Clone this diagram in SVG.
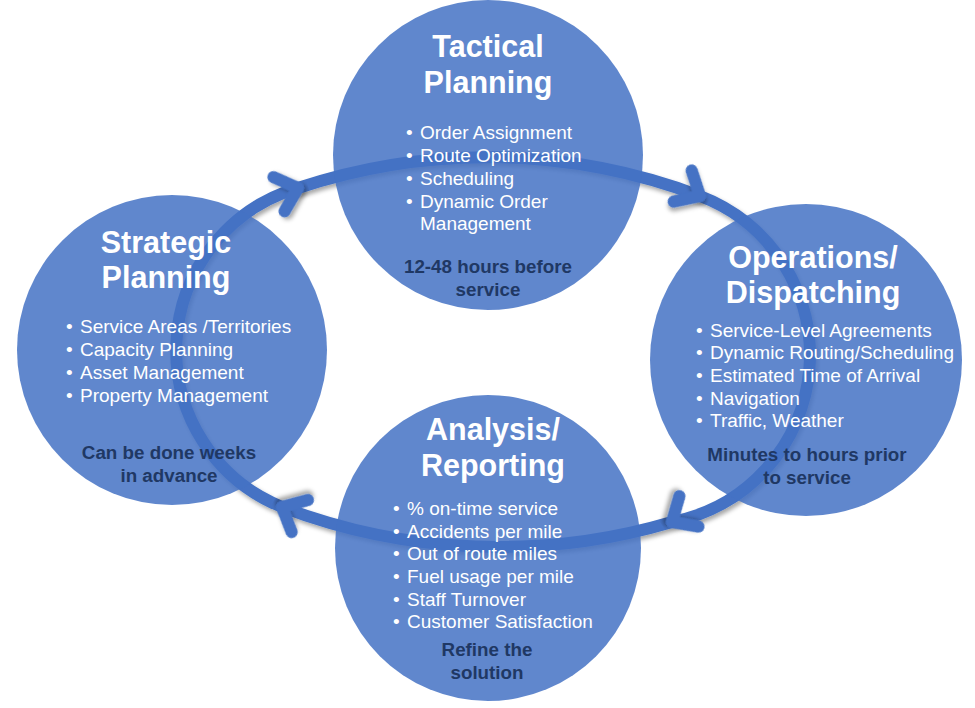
<svg xmlns="http://www.w3.org/2000/svg" xmlns:xlink="http://www.w3.org/1999/xlink" width="975" height="708" viewBox="0 0 975 708">
<style>
.node{fill:#4472c4;fill-opacity:0.85}
.title{font-family:"Liberation Sans",Arial,sans-serif;font-weight:bold;font-size:30.5px;fill:#ffffff;text-anchor:middle}
.item{font-family:"Liberation Sans",Arial,sans-serif;font-size:19px;fill:#ffffff}
.note{font-family:"Liberation Sans",Arial,sans-serif;font-weight:bold;font-size:18.8px;fill:#1f3864;text-anchor:middle}
.ring{fill:none;stroke:#4472c4;stroke-width:12}
.chev{fill:none;stroke:#4472c4;stroke-width:12;stroke-linecap:round;stroke-linejoin:round}
</style>
<defs>
<filter id="sh" x="-50%" y="-50%" width="200%" height="200%">
<feDropShadow dx="2" dy="3" stdDeviation="2" flood-color="#000" flood-opacity="0.35"/>
</filter>
<path id="arrowhead" class="chev" d="M-20,-18 L0,0 L-20,18"/>
</defs>
<rect width="975" height="708" fill="#ffffff"/>
<g id="connectors">
<path class="ring" filter="url(#sh)" d="M298,188 A600,600 0 0 1 700,196 A170,170 0 0 1 672,522 A610,610 0 0 1 282,507 A169,169 0 0 1 298,188 Z"/>
<use xlink:href="#arrowhead" href="#arrowhead" filter="url(#sh)" transform="translate(298,188) rotate(-18)"/>
<use xlink:href="#arrowhead" href="#arrowhead" filter="url(#sh)" transform="translate(700,196) rotate(30)"/>
<use xlink:href="#arrowhead" href="#arrowhead" filter="url(#sh)" transform="translate(672,522) rotate(148)"/>
<use xlink:href="#arrowhead" href="#arrowhead" filter="url(#sh)" transform="translate(282,507) rotate(207)"/>
</g>
<g id="tactical">
<circle class="node" cx="488" cy="155" r="155"/>
<text class="title" x="488" y="57">Tactical</text>
<text class="title" x="488" y="93">Planning</text>
<text class="item" y="139"><tspan x="406">•</tspan><tspan x="420">Order Assignment</tspan></text>
<text class="item" y="162"><tspan x="406">•</tspan><tspan x="420">Route Optimization</tspan></text>
<text class="item" y="185"><tspan x="406">•</tspan><tspan x="420">Scheduling</tspan></text>
<text class="item" y="208"><tspan x="406">•</tspan><tspan x="420">Dynamic Order</tspan></text>
<text class="item" x="420" y="230">Management</text>
<text class="note" x="488" y="273">12-48 hours before</text>
<text class="note" x="488" y="296">service</text>
</g>
<g id="strategic">
<circle class="node" cx="172" cy="350" r="155"/>
<text class="title" x="166" y="253">Strategic</text>
<text class="title" x="166" y="288">Planning</text>
<text class="item" y="333"><tspan x="66">•</tspan><tspan x="80">Service Areas /Territories</tspan></text>
<text class="item" y="356"><tspan x="66">•</tspan><tspan x="80">Capacity Planning</tspan></text>
<text class="item" y="379"><tspan x="66">•</tspan><tspan x="80">Asset Management</tspan></text>
<text class="item" y="402"><tspan x="66">•</tspan><tspan x="80">Property Management</tspan></text>
<text class="note" x="169" y="459">Can be done weeks</text>
<text class="note" x="169" y="482">in advance</text>
</g>
<g id="operations">
<circle class="node" cx="806" cy="360" r="156"/>
<text class="title" x="813" y="268">Operations/</text>
<text class="title" x="813" y="303">Dispatching</text>
<text class="item" y="337"><tspan x="696">•</tspan><tspan x="710">Service-Level Agreements</tspan></text>
<text class="item" y="359"><tspan x="696">•</tspan><tspan x="710">Dynamic Routing/Scheduling</tspan></text>
<text class="item" y="382"><tspan x="696">•</tspan><tspan x="710">Estimated Time of Arrival</tspan></text>
<text class="item" y="405"><tspan x="696">•</tspan><tspan x="710">Navigation</tspan></text>
<text class="item" y="427"><tspan x="696">•</tspan><tspan x="710">Traffic, Weather</tspan></text>
<text class="note" x="807" y="461">Minutes to hours prior</text>
<text class="note" x="807" y="484">to service</text>
</g>
<g id="analysis">
<circle class="node" cx="488" cy="548" r="153"/>
<text class="title" x="493" y="440">Analysis/</text>
<text class="title" x="493" y="476">Reporting</text>
<text class="item" y="515"><tspan x="393">•</tspan><tspan x="407">% on-time service</tspan></text>
<text class="item" y="538"><tspan x="393">•</tspan><tspan x="407">Accidents per mile</tspan></text>
<text class="item" y="560"><tspan x="393">•</tspan><tspan x="407">Out of route miles</tspan></text>
<text class="item" y="583"><tspan x="393">•</tspan><tspan x="407">Fuel usage per mile</tspan></text>
<text class="item" y="606"><tspan x="393">•</tspan><tspan x="407">Staff Turnover</tspan></text>
<text class="item" y="628"><tspan x="393">•</tspan><tspan x="407">Customer Satisfaction</tspan></text>
<text class="note" x="487" y="656">Refine the</text>
<text class="note" x="487" y="679">solution</text>
</g>
</svg>
